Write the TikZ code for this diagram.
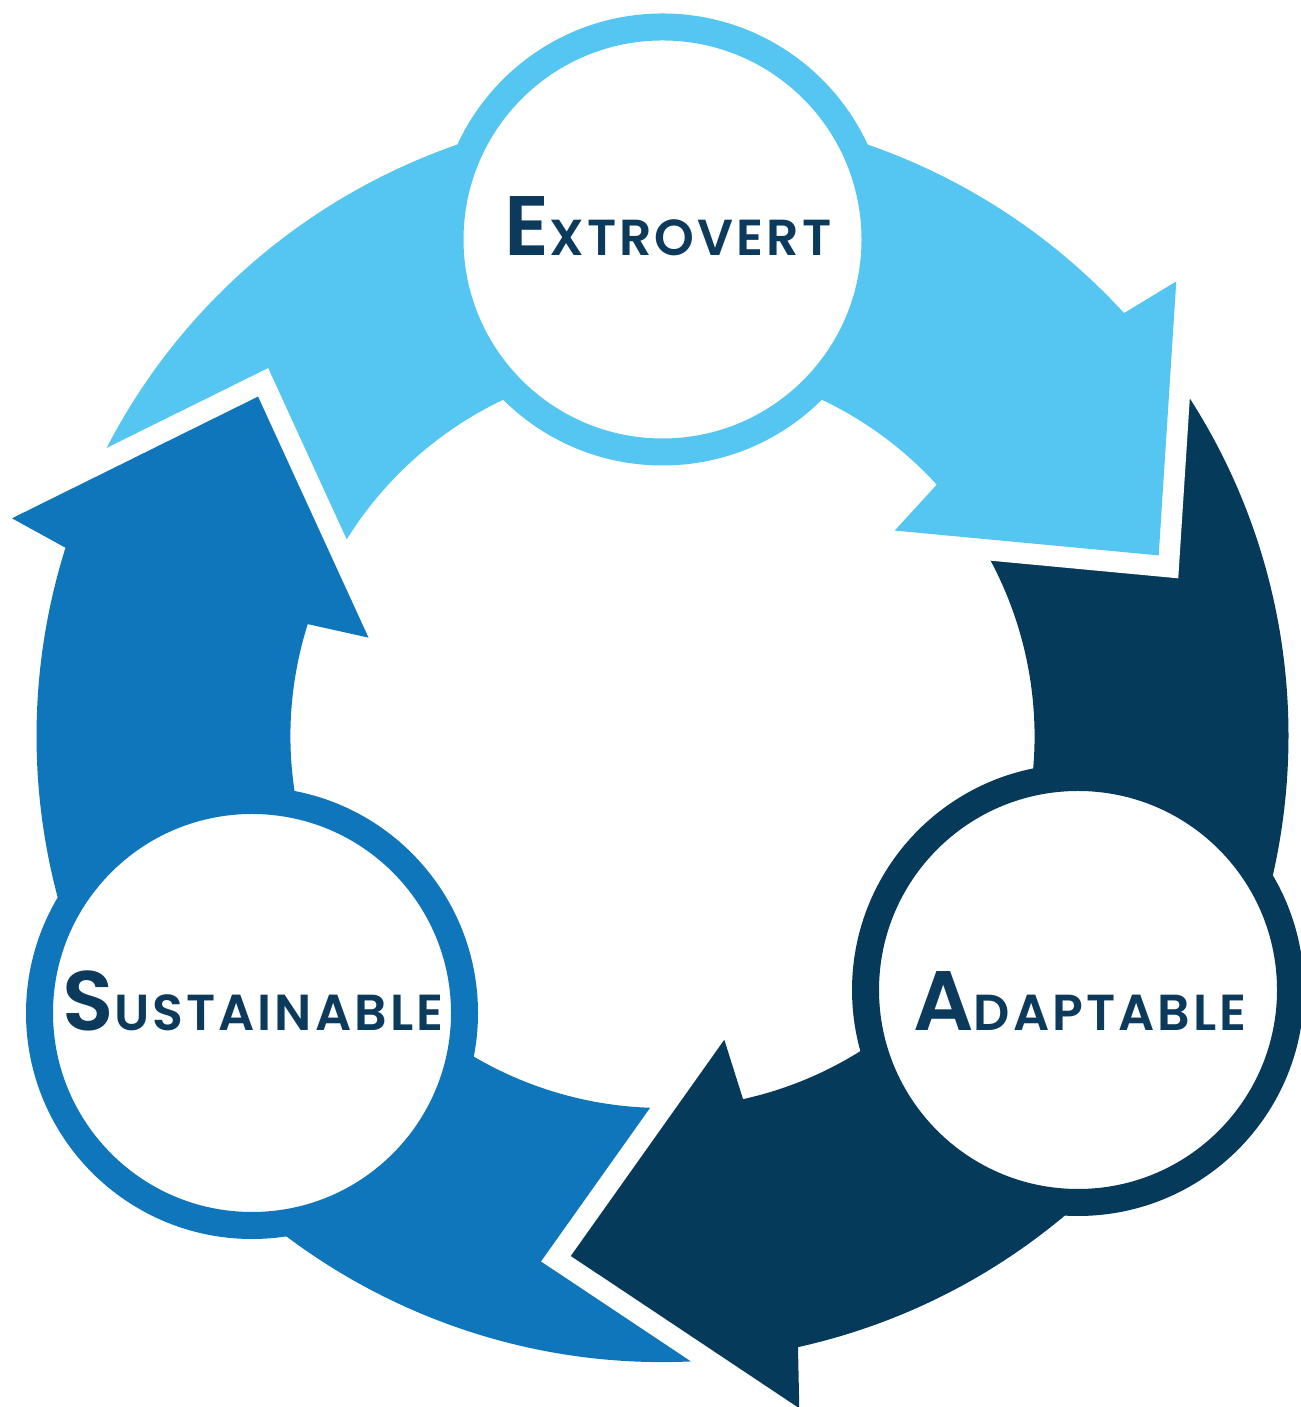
\documentclass[tikz,border=0pt]{standalone}
\usepackage{fontspec}
\newfontfamily\stagefont[LetterSpace=6]{Poppins SemiBold}

\definecolor{skyarc}{HTML}{55C6F1}
\definecolor{midarc}{HTML}{0F76BC}
\definecolor{navyarc}{HTML}{063A5A}
\definecolor{labeltext}{HTML}{0B3A5C}

% big first letter, rest as small capitals
\newcommand{\capword}[2]{{\fontsize{24}{26}\selectfont #1}{\fontsize{14.4}{16}\selectfont #2}}

% one band of the ring, from one angle to another (clockwise)
\newcommand{\ringband}[3]{%
  \fill[#1] (#2:6.26) arc[start angle=#2, end angle=#3, radius=6.26]
    -- (#3:3.72) arc[start angle=#3, end angle=#2, radius=3.72] -- cycle;}

% arrow head at the end of a band, with a white gap in front of it
\newcommand{\ringhead}[2]{%
  \pgfmathsetmacro{\tipangle}{#2-21.5}
  \pgfmathsetmacro{\backangle}{#2+1}
  \draw[headgap] (#2:6.86) -- (\tipangle:5.28) -- (#2:3.10);
  \fill[#1] (#2:6.86) -- (\tipangle:5.28) -- (#2:3.10)
    -- (\backangle:3.72) -- (\backangle:6.26) -- cycle;}

\tikzset{
  stage/.style={circle, fill=white, line width=0.27cm, minimum size=4.25cm, inner sep=0pt},
  stagelabel/.style={anchor=base, text=labeltext, font=\stagefont, inner sep=0pt},
  headgap/.style={white, line width=0.42cm, line join=miter},
}

\begin{document}
\begin{tikzpicture}
    \useasboundingbox (0,0) rectangle (13,14.07);

    % Ring of three arrows round the centre
    \begin{scope}[shift={(6.625,6.71)}]
        \ringband{skyarc}{161.5}{41.5}
        \ringband{navyarc}{41.5}{-78.5}
        \ringband{midarc}{281.5}{161.5}

        \ringhead{skyarc}{41.5}
        \ringhead{navyarc}{-78.5}
        \ringhead{midarc}{161.5}
    \end{scope}

    % Stages
    \node[stage, draw=skyarc] (extrovert) at (6.625,11.675) {};
    \node[stage, draw=navyarc] (adaptable) at (10.78,4.17) {};
    \node[stage, draw=midarc] (sustainable) at (2.52,3.94) {};

    % Labels
    \node[stagelabel] (extrovert-label) at (6.68,11.51) {\capword{E}{XTROVERT}};
    \node[stagelabel] (adaptable-label) at (10.80,3.76) {\capword{A}{DAPTABLE}};
    \node[stagelabel] (sustainable-label) at (2.53,3.76) {\capword{S}{USTAINABLE}};
\end{tikzpicture}
\end{document}
